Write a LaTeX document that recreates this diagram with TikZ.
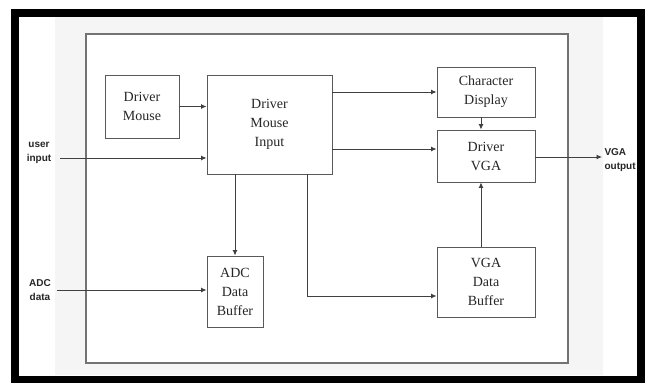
\documentclass[tikz,border=0pt]{standalone}
\usepackage{fontspec}
\setmainfont{Liberation Serif}
\setsansfont{Liberation Sans}
\usetikzlibrary{arrows.meta,positioning}
\tikzset{
  sys-frame/.style={draw=black, line width=8pt},
  sys-panel/.style={draw=black!55, fill=white, line width=1.2pt},
  sys-block/.style={draw=black!65, fill=white, line width=0.9pt, align=center,
    font=\fontsize{14}{19}\selectfont, inner sep=2pt, text=black!85},
  sys-port/.style={align=center, font=\sffamily\bfseries\fontsize{10}{14}\selectfont, text=black!85},
  sys-flow/.style={-{Latex[length=5.5pt,width=5pt]}, draw=black!75, line width=0.9pt}
}

\begin{document}
\begin{tikzpicture}[x=1pt, y=-1pt]
  \useasboundingbox (0,0) rectangle (646,383);
  % Background, frame and panel
  \fill[black!4] (55,17) rectangle (603,375);
  \draw[sys-frame] (15,13) rectangle (641,380);
  \draw[sys-panel] (86,34) rectangle (568,363);

  % Blocks
  \node[sys-block, minimum width=74pt, minimum height=63pt] (mouse) at (142,106.5) {Driver\\Mouse};
  \node[sys-block, minimum width=125pt, minimum height=99pt] (dmi) at (269.5,124.5) {Driver\\Mouse\\Input};
  \node[sys-block, minimum width=98pt, minimum height=50pt] (chardisp) at (486,92) {Character\\Display};
  \node[sys-block, minimum width=98pt, minimum height=52pt] (vga) at (486,156) {Driver\\VGA};
  \node[sys-block, minimum width=56pt, minimum height=71pt] (adc) at (235,291.5) {ADC\\Data\\Buffer};
  \node[sys-block, minimum width=98pt, minimum height=70pt] (vgabuf) at (486,282) {VGA\\Data\\Buffer};

  % Ports
  \node[sys-port] (userin) at (39,152.5) {user\\input};
  \node[sys-port] (adcin) at (40,290.5) {ADC\\data};
  \node[sys-port, align=left, anchor=west] (vgaout) at (601,160) {VGA\\output};
  \coordinate (userstart) at (60,158);
  \coordinate (adcstart) at (57,290);
  \coordinate (vgaend) at (602,157);
  \coordinate (bufturn) at (307,296);

  % Connectors
  \draw[sys-flow] (mouse.east) -- (mouse.east -| dmi.west);
  \draw[sys-flow] (userstart) -- (userstart -| dmi.west);
  \draw[sys-flow] (dmi.east |- chardisp.west) -- (chardisp.west);
  \draw[sys-flow] ([yshift=7pt]vga.west -| dmi.east) -- ([yshift=7pt]vga.west);
  \draw[sys-flow] ([xshift=-5pt]chardisp.south) -- ([xshift=-5pt]vga.north);
  \draw[sys-flow] ([xshift=-5pt]vgabuf.north) -- ([xshift=-5pt]vga.south);
  \draw[sys-flow] (vga.east |- vgaend) -- (vgaend);
  \draw[sys-flow] (dmi.south -| adc.north) -- (adc.north);
  \draw[sys-flow] (dmi.south -| bufturn) |- (bufturn -| vgabuf.west);
  \draw[sys-flow] (adcstart) -- (adcstart -| adc.west);
\end{tikzpicture}
\end{document}
